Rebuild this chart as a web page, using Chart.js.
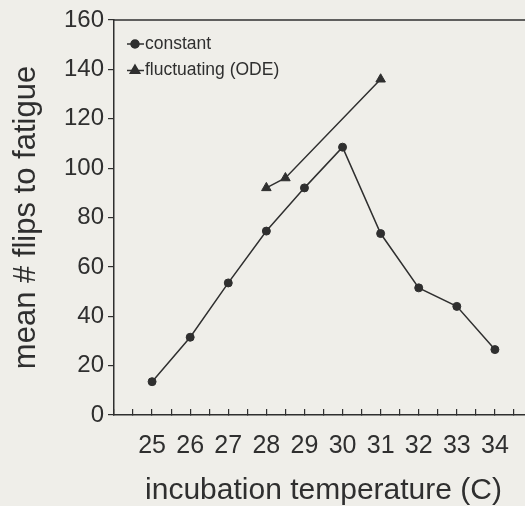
<!DOCTYPE html>
<html lang="en">
<head>
    <meta charset="UTF-8">
    <title>Flips to fatigue</title>
    <script src="https://cdn.jsdelivr.net/npm/chart.js"></script>
    <style>
        body {
            margin: 0;
            background-color: #efeee9;
            overflow: hidden;
            width: 525px;
            height: 506px;
        }
        canvas {
            display: block;
        }
    </style>
</head>
<body>
    <canvas id="fatigue-chart" width="555" height="506"></canvas>

    <script>
        // values
        const temps = [25, 26, 27, 28, 29, 30, 31, 32, 33, 34];
        const constantFlips = [13.5, 31.5, 53.5, 74.5, 92, 108.5, 73.5, 51.5, 44, 26.5];
        const odeTemps = [28, 28.5, 31];
        const odeFlips = [92, 96, 136];
        const tickLabels = ["25", "26", "27", "28", "29", "30", "31", "32", "33", "34"];

        const ink = "#2f2f2f";
        const font = "'Liberation Sans', Arial, sans-serif";

        // top frame line + legend drawn inside the plot area
        const framePlugin = {
            id: "frame",
            afterDraw(chart) {
                const ctx = chart.ctx;
                const area = chart.chartArea;
                ctx.save();
                ctx.strokeStyle = ink;
                ctx.lineWidth = 1.5;
                ctx.beginPath();
                ctx.moveTo(area.left, area.top);
                ctx.lineTo(area.right, area.top);
                ctx.stroke();

                const items = chart.data.datasets;
                ctx.font = "17.5px " + font;
                ctx.textBaseline = "middle";
                ctx.fillStyle = ink;
                items.forEach((ds, i) => {
                    const y = area.top + 24 + i * 26.5;
                    const x = area.left + 13;
                    ctx.lineWidth = 1.5;
                    ctx.beginPath();
                    ctx.moveTo(x, y);
                    ctx.lineTo(x + 17, y);
                    ctx.stroke();
                    Chart.helpers.drawPoint(ctx, {
                        pointStyle: ds.pointStyle,
                        radius: ds.pointStyle === "triangle" ? 5.5 : 4,
                        rotation: 0,
                        borderWidth: 1
                    }, x + 8, y);
                    ctx.fill();
                    ctx.fillText(ds.label, x + 18, y);
                });
                ctx.restore();
            }
        };

        const ctx = document.getElementById("fatigue-chart").getContext("2d");

        new Chart(ctx, {
            type: "line",
            data: {
                datasets: [{
                    label: "constant",
                    data: temps.map((t, i) => ({ x: t, y: constantFlips[i] })),
                    borderColor: ink,
                    backgroundColor: ink,
                    borderWidth: 1.5,
                    pointStyle: "circle",
                    pointRadius: 4,
                    pointBorderWidth: 1,
                    tension: 0
                }, {
                    label: "fluctuating (ODE)",
                    data: odeTemps.map((t, i) => ({ x: t, y: odeFlips[i] })),
                    borderColor: ink,
                    backgroundColor: ink,
                    borderWidth: 1.5,
                    pointStyle: "triangle",
                    pointRadius: 5.5,
                    pointBorderWidth: 1,
                    tension: 0
                }]
            },
            options: {
                responsive: false,
                animation: false,
                layout: {
                    padding: { left: 0, top: 20, right: 2, bottom: 0 }
                },
                plugins: {
                    legend: { display: false },
                    tooltip: { enabled: false }
                },
                scales: {
                    x: {
                        type: "linear",
                        min: 24,
                        max: 35,
                        afterFit(scale) { scale.height = 91; },
                        border: { display: true, color: ink, width: 1.5 },
                        grid: {
                            display: true,
                            drawOnChartArea: false,
                            drawTicks: true,
                            tickLength: -6,
                            color: ink,
                            lineWidth: 1.2
                        },
                        ticks: {
                            stepSize: 0.5,
                            autoSkip: false,
                            maxRotation: 0,
                            padding: 22,
                            color: ink,
                            font: { family: font, size: 25 },
                            callback: (v) => {
                                const i = temps.indexOf(v);
                                return i >= 0 ? tickLabels[i] : "";
                            }
                        },
                        title: {
                            display: true,
                            text: "incubation temperature (C)",
                            color: ink,
                            padding: { top: 0, bottom: 0 },
                            font: { family: font, size: 30, lineHeight: 1 }
                        }
                    },
                    y: {
                        min: 0,
                        max: 160,
                        afterFit(scale) { scale.width = 114; },
                        border: { display: true, color: ink, width: 1.5 },
                        grid: {
                            display: true,
                            drawOnChartArea: false,
                            drawTicks: true,
                            tickLength: 6,
                            color: ink,
                            lineWidth: 1.2
                        },
                        ticks: {
                            stepSize: 20,
                            padding: 4,
                            color: ink,
                            font: { family: font, size: 24 }
                        },
                        title: {
                            display: true,
                            text: "mean # flips to fatigue",
                            color: ink,
                            padding: { top: 11, bottom: 0 },
                            font: { family: font, size: 31, lineHeight: 1 }
                        }
                    }
                }
            },
            plugins: [framePlugin]
        });
    </script>
</body>
</html>
